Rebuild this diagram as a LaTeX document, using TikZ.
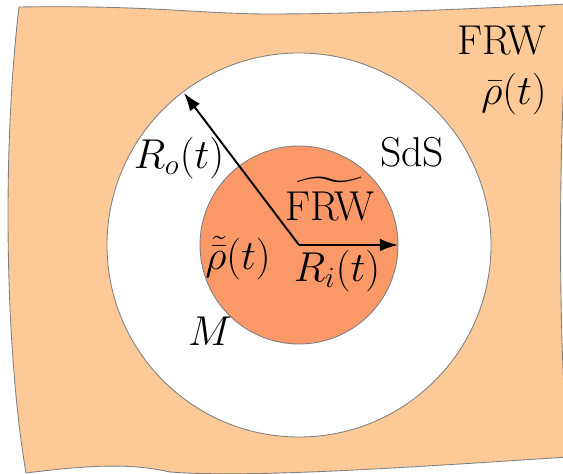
\documentclass[tikz,border=0pt]{standalone}
\usepackage{fix-cm}
\usepackage{amsmath}
\usetikzlibrary{arrows.meta}

\definecolor{outerfill}{RGB}{253,201,150}
\definecolor{innerfill}{RGB}{250,152,104}

\begin{document}
\begin{tikzpicture}[
  x=0.465pt, y=-0.465pt,
  region/.style={draw=gray, line width=0.4pt},
  label/.style={font=\fontsize{19.4pt}{23pt}\selectfont, inner sep=0pt},
  radius arrow/.style={-{Latex[length=8.4pt, width=5.8pt]}, line width=0.9pt}
]
\useasboundingbox (0,0) rectangle (563,474);
% outer FRW patch
\path[region, fill=outerfill] (19,7) .. controls (150,5) and (200,14) .. (270,14)
  .. controls (350,14) and (450,10) .. (568,4)
  .. controls (558,150) and (558,330) .. (568,457)
  .. controls (400,468) and (250,478) .. (170,472)
  .. controls (130,463) and (90,465) .. (26,473)
  .. controls (5,350) and (2,150) .. (19,7) -- cycle;
\coordinate (centre) at (299,245);
\path[region, fill=white] (centre) circle[radius=192];
\path[region, fill=innerfill] (centre) circle[radius=99];
\coordinate (outer) at (184,93);
\coordinate (inner) at (398,245);
\draw[radius arrow] (centre) -- (outer);
\draw[radius arrow] (centre) -- (inner);
% labels
\node[label] (frw) at (502,41) {FRW};
\node[label] (rhobar) at (514,94) {$\bar\rho(t)$};
\node[label] (sds) at (412,152) {SdS};
\node[label] (ro) at (179,158) {$R_o(t)$};
\node[label] (frwin) at (330,199) {$\widetilde{\text{FRW}}$};
\node[label] (rhoin) at (238,258) {$\tilde{\bar\rho}(t)$};
\node[label] (ri) at (337,271) {$R_i(t)$};
\node[label] (mass) at (210,331) {$M$};
\end{tikzpicture}
\end{document}
